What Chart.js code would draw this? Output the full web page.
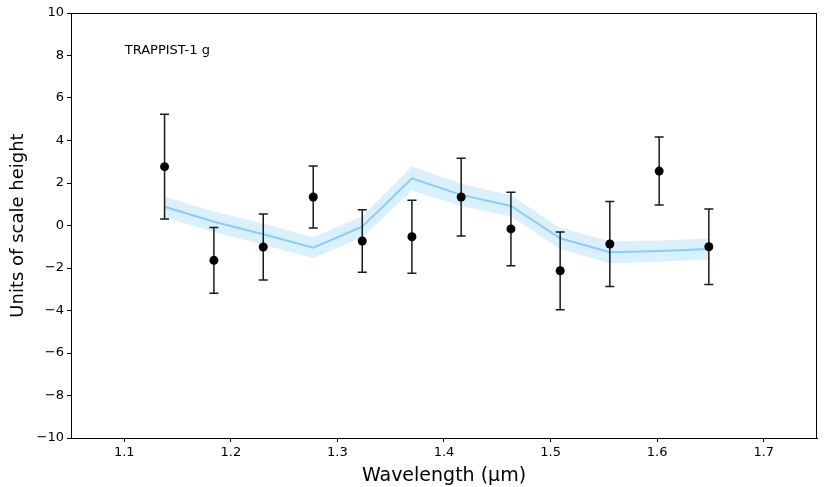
<!DOCTYPE html>
<html>
<head>
<meta charset="utf-8">
<script src="https://cdn.jsdelivr.net/npm/chart.js@4/dist/chart.umd.min.js"></script>
<style>
  body { margin: 0; background: #fff; }
  canvas { display: block; }
</style>
</head>
<body>
<canvas id="chart" width="831" height="487"></canvas>
<script>
// observed spectrum (wavelength in micron, units of scale height)
const wavelengths = [1.1378, 1.1841, 1.2304, 1.2773, 1.3233, 1.3699, 1.4161, 1.4628, 1.5090, 1.5556, 1.6019, 1.6485];
const depths = [2.77, -1.64, -1.01, 1.34, -0.73, -0.53, 1.34, -0.16, -2.13, -0.87, 2.56, -1.00];
const errors = [2.46, 1.55, 1.55, 1.46, 1.47, 1.72, 1.83, 1.73, 1.83, 2.00, 1.60, 1.78];

// model curve and its shaded band
const model = [0.88, 0.18, -0.41, -1.04, -0.06, 2.22, 1.44, 0.92, -0.60, -1.26, -1.20, -1.11];
const modelHigh = [1.37, 0.66, 0.09, -0.55, 0.44, 2.79, 1.96, 1.42, -0.10, -0.74, -0.70, -0.62];
const modelLow = [0.39, -0.30, -0.91, -1.53, -0.56, 1.65, 0.92, 0.42, -1.10, -1.78, -1.70, -1.60];

const xTicks = [1.1, 1.2, 1.3, 1.4, 1.5, 1.6, 1.7];
const yTicks = [-10, -8, -6, -4, -2, 0, 2, 4, 6, 8, 10];
const label = 'TRAPPIST-1 g';

const pts = arr => arr.map((v, i) => ({ x: wavelengths[i], y: v }));

const font = 'DejaVu Sans';

// error bars go under the markers but over the band
const errorBars = {
    id: 'errorBars',
    beforeDatasetDraw(chart, args) {
        if (args.index !== 3) return;
        const ctx = chart.ctx;
        const xs = chart.scales.x, ys = chart.scales.y;
        ctx.save();
        ctx.strokeStyle = '#1a1a1a';
        ctx.lineWidth = 1.5;
        wavelengths.forEach((w, i) => {
            const px = xs.getPixelForValue(w);
            const top = ys.getPixelForValue(depths[i] + errors[i]);
            const bot = ys.getPixelForValue(depths[i] - errors[i]);
            ctx.beginPath();
            ctx.moveTo(px, top); ctx.lineTo(px, bot);
            ctx.moveTo(px - 4.5, top); ctx.lineTo(px + 4.5, top);
            ctx.moveTo(px - 4.5, bot); ctx.lineTo(px + 4.5, bot);
            ctx.stroke();
        });
        ctx.restore();
    }
};

const frame = {
    id: 'frame',
    afterDraw(chart) {
        const ctx = chart.ctx;
        const a = chart.chartArea;
        ctx.save();
        ctx.strokeStyle = '#000';
        ctx.lineWidth = 1;
        ctx.strokeRect(a.left + 0.5, a.top + 0.5, a.right - a.left - 1, a.bottom - a.top);
        ctx.fillStyle = '#000';
        ctx.font = '13px "' + font + '"';
        ctx.textBaseline = 'middle';
        ctx.fillText(label, a.left + 0.072 * (a.right - a.left), a.top + 0.089 * (a.bottom - a.top));
        ctx.restore();
    }
};

new Chart(document.getElementById('chart'), {
    type: 'scatter',
    data: {
        datasets: [
            {
                data: pts(modelHigh),
                showLine: true,
                pointRadius: 0,
                borderWidth: 0,
                borderColor: 'rgba(0,0,0,0)',
                backgroundColor: 'rgba(135,206,250,0.3)',
                fill: '+1',
                tension: 0,
                order: 3
            },
            {
                data: pts(modelLow),
                showLine: true,
                pointRadius: 0,
                borderWidth: 0,
                borderColor: 'rgba(0,0,0,0)',
                fill: false,
                tension: 0,
                order: 2
            },
            {
                data: pts(model),
                showLine: true,
                pointRadius: 0,
                borderWidth: 2,
                borderColor: '#87cefa',
                fill: false,
                tension: 0,
                order: 1
            },
            {
                data: pts(depths),
                pointRadius: 4.5,
                pointHoverRadius: 4.5,
                pointBackgroundColor: '#000',
                pointBorderColor: '#000',
                pointBorderWidth: 0,
                order: 0
            }
        ]
    },
    options: {
        responsive: false,
        animation: false,
        devicePixelRatio: 1,
        layout: { padding: { top: 13, right: 14, left: 0, bottom: 0 } },
        plugins: {
            legend: { display: false },
            tooltip: { enabled: false },
            filler: { propagate: false }
        },
        scales: {
            x: {
                type: 'linear',
                min: 1.05,
                max: 1.75,
                afterBuildTicks: s => { s.ticks = xTicks.map(v => ({ value: v })); },
                afterFit: s => { s.height = 49; },
                grid: { drawOnChartArea: false, drawTicks: true, tickLength: 4, tickColor: '#000' },
                border: { display: true, color: '#000', width: 1 },
                ticks: {
                    color: '#000',
                    padding: 3,
                    maxRotation: 0,
                    font: { family: font, size: 13 },
                    callback: v => v.toFixed(1)
                },
                title: {
                    display: true,
                    text: 'Wavelength (µm)',
                    color: '#000',
                    font: { family: font, size: 19 },
                    padding: { top: 0, bottom: 0 }
                }
            },
            y: {
                type: 'linear',
                min: -10,
                max: 10,
                afterBuildTicks: s => { s.ticks = yTicks.map(v => ({ value: v })); },
                afterFit: s => { s.width = 71; },
                grid: { drawOnChartArea: false, drawTicks: true, tickLength: 4, tickColor: '#000' },
                border: { display: true, color: '#000', width: 1 },
                ticks: {
                    color: '#000',
                    padding: 3,
                    font: { family: font, size: 13 },
                    callback: v => String(v).replace('-', '\u2212')
                },
                title: {
                    display: true,
                    text: 'Units of scale height',
                    color: '#000',
                    font: { family: font, size: 18 },
                    padding: { top: 8, bottom: 0 }
                }
            }
        }
    },
    plugins: [errorBars, frame]
});
</script>
</body>
</html>
